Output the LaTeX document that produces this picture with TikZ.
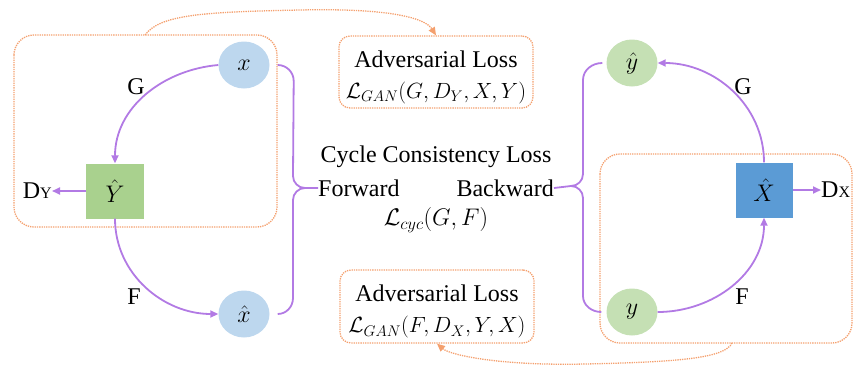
\RequirePackage{fix-cm}
\documentclass[tikz,border=0pt]{standalone}
\usepackage{fontspec}
\setmainfont{Liberation Serif}
\usetikzlibrary{arrows.meta,shapes.geometric}
\definecolor{blueell}{RGB}{189,215,238}
\definecolor{greenell}{RGB}{197,224,180}
\definecolor{greensq}{RGB}{169,209,142}
\definecolor{bluesq}{RGB}{91,155,213}
\definecolor{purp}{RGB}{178,122,228}
\definecolor{orng}{RGB}{244,160,110}
\begin{document}
\begin{tikzpicture}[x=1pt,y=1pt,
  every node/.style={font=\fontsize{24}{31}\selectfont, inner sep=0pt},
  ell/.style={ellipse, minimum width=51pt, minimum height=47pt},
  sq/.style={rectangle, minimum width=58pt, minimum height=55pt},
  flow/.style={draw=purp, line width=1.8pt, -{Triangle[length=8pt,width=7pt]}},
  brace/.style={draw=purp, line width=1.8pt},
  grp/.style={draw=orng, densely dotted, line width=1.3pt, rounded corners=20pt},
  lossbox/.style={draw=orng, densely dotted, line width=1.3pt, rounded corners=11pt, align=center, minimum width=194pt},
  link/.style={draw=orng, densely dotted, line width=1.3pt, -{Triangle[length=8pt,width=7pt]}}
]
\useasboundingbox (0,0) rectangle (854,-367);
% groups
\draw[grp] (14,-35) rectangle (277,-227);
\draw[grp] (600,-154) rectangle (852,-343);
\coordinate (topstart) at (145,-35);
\coordinate (botstart) at (732,-343);
% loss boxes
\node[lossbox, minimum height=72pt] (advtop) at (436,-72) {\rule{0pt}{27pt}Adversarial Loss\\{\fontsize{22}{31}\selectfont$\mathcal{L}_{GAN}(G,D_Y,X,Y)$}};
\node[lossbox, minimum height=73pt] (advbot) at (437,-306.5) {\rule{0pt}{27pt}Adversarial Loss\\{\fontsize{22}{31}\selectfont$\mathcal{L}_{GAN}(F,D_X,Y,X)$}};
% nodes
\node[ell, fill=blueell] (x) at (244,-65) {$x$};
\node[sq, fill=greensq] (Yh) at (115,-191) {$\hat{Y}$};
\node[ell, fill=blueell] (xh) at (244,-314) {$\hat{x}$};
\node[ell, fill=greenell] (yh) at (632,-63) {$\hat{y}$};
\node[sq, fill=bluesq, minimum width=57pt] (Xh) at (764,-190) {$\hat{X}$};
\node[ell, fill=greenell] (y) at (632,-312) {$y$};
\node[anchor=east] (DY) at (52,-191) {D{\fontsize{16}{16}\selectfont Y}};
\node[anchor=west] (DX) at (821,-190) {D{\fontsize{16}{16}\selectfont X}};
% labels
\node (GL) at (136,-87) {G};
\node (FL) at (134,-297) {F};
\node (GR) at (743,-87) {G};
\node (FR) at (742,-297) {F};
\node (cyc) at (436,-157) {Cycle Consistency Loss};
\node[anchor=west] (fwd) at (318,-188) {Forward};
\node[anchor=east] (bwd) at (554,-188) {Backward};
\node (lcyc) at (436,-220) {$\mathcal{L}_{cyc}(G,F)$};
% flows
\draw[flow] (x.west) to[out=185,in=90] (Yh.north);
\draw[flow] (Yh.south) to[out=-90,in=180] (xh.west);
\draw[flow] (Yh.west) -- (DY.east);
\draw[flow] (y.east) to[out=0,in=-90] (Xh.south);
\draw[flow] (Xh.north) to[out=90,in=0] (yh.east);
\draw[flow] (Xh.east) -- (DX.west);
% braces
\coordinate (lb1) at ([xshift=8pt]x.east);
\coordinate (lb2) at ([xshift=8pt]xh.east);
\draw[brace] (lb1) to[out=0,in=90] ++(16,-16) -- (293,-176) to[out=-90,in=180] (305,-188) -- (fwd.west);
\draw[brace] (305,-188) to[out=180,in=90] (293,-200) -- (293,-298) to[out=-90,in=0] (lb2);
\coordinate (rb1) at ([xshift=-4pt]yh.west);
\coordinate (rb2) at ([xshift=-5pt]y.west);
\draw[brace] (rb1) to[out=180,in=90] (583,-80) -- (583,-174) to[out=-90,in=0] (571,-186) -- (bwd.east);
\draw[brace] (571,-186) to[out=0,in=90] (583,-198) -- (583,-296) to[out=-90,in=180] (rb2);
% orange links
\draw[link] (topstart) .. controls (160,-15) and (200,-12) .. (300,-10) .. controls (390,-8) and (425,-18) .. (advtop.north);
\draw[link] (botstart) .. controls (725,-358) and (680,-362) .. (585,-364) .. controls (500,-366) and (450,-355) .. (advbot.south);
\end{tikzpicture}
\end{document}
